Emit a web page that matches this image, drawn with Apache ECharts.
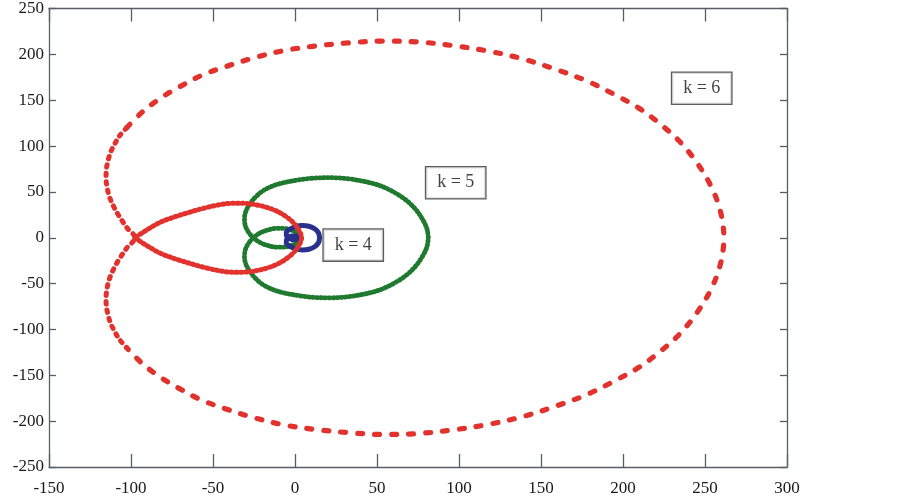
<!DOCTYPE html>
<html>
<head>
<meta charset="utf-8">
<script src="https://cdn.jsdelivr.net/npm/echarts@6/dist/echarts.min.js"></script>
<style>
html,body{margin:0;padding:0;background:#fff;}
#chart{width:902px;height:501px;}
</style>
</head>
<body>
<div id="chart"></div>
<script>
// ---- data ----
// Red curve (k = 6): outer loop, widely dashed part (top / right / bottom)
const redOuter = [
  [-102.6,120],[-93.5,136.5],[-83,151],[-71,164],[-57,177],[-41.6,187],[-25.5,196],[-7,204],[12,209],
  [32.5,212.5],[54,214.5],[75,213.5],[96.5,209.5],[118,203.5],[139,195],[160,183],[178,171],[195,156],
  [210,141],[222,125],[234,106],[245,82],[254,55],[259.5,28],[261.5,0],
  [259.5,-28],[254,-55],[245,-82],[234,-106],[222,-125],[210,-141],[195,-156],[178,-171],[160,-183],
  [139,-195],[118,-203.5],[96.5,-209.5],[75,-213.5],[54,-214.5],[32.5,-212.5],[12,-209],[-7,-204],
  [-25.5,-196],[-41.6,-187],[-57,-177],[-71,-164],[-83,-151],[-93.5,-136.5],[-102.6,-120]
];
// Red curve (k = 6): left arc of outer loop (tight dashes)
const redLeft = [
  [-102.6,120],[-107,111],[-110,102],[-112.5,93],[-114,84],[-115,75],[-115.2,66],[-114.6,55],[-113,44],
  [-110.3,33],[-106.7,22],[-102.5,11],[-97.6,0],
  [-102.5,-11],[-106.7,-22],[-110.3,-33],[-113,-44],[-114.6,-55],[-115.2,-66],[-115,-75],[-114,-84],
  [-112.5,-93],[-110,-102],[-107,-111],[-102.6,-120]
];
// Red curve (k = 6): inner loop (dense dots)
const redInner = [
  [-97.6,0],[-90,-9],[-82,-17],[-73,-23],[-64,-28],[-55,-32.5],[-46,-36],[-38.5,-37.5],[-31.5,-37.5],
  [-24,-36],[-17,-33],[-10.5,-28.5],[-5,-22.5],[-0.5,-15.5],[2.5,-8],[4,0],
  [2.5,8],[-0.5,15.5],[-5,22.5],[-10.5,28.5],[-17,33],[-24,36],[-31.5,37.5],[-38.5,37.5],[-46,36],
  [-55,32.5],[-64,28],[-73,23],[-82,17],[-90,9],[-97.6,0]
];
// Green curve (k = 5)
const greenCurve = [
  [81.3,0],[80.5,9.5],[78.2,18.8],[74,30],[68.1,40.5],[60.5,49.5],[51.8,56.8],[42,61.5],[31.5,64.5],
  [21,65.5],[11.2,65],[2,63],[-7.1,60],[-13.5,56.5],[-19.3,51.4],[-24,44.5],[-27.4,37],[-29.8,29.5],
  [-30.8,21],[-30.2,12.5],[-28.3,6],[-25.4,0],
  [-21.5,-5],[-16.5,-8.5],[-11.2,-10.3],[-5.5,-10],[-1,-7.5],[2,-3.8],[3,0],[2,3.8],[-1,7.5],
  [-5.5,10],[-11.2,10.3],[-16.5,8.5],[-21.5,5],[-25.4,0],
  [-28.3,-6],[-30.2,-12.5],[-30.8,-21],[-29.8,-29.5],[-27.4,-37],[-24,-44.5],[-19.3,-51.4],[-13.5,-56.5],
  [-7.1,-60],[2,-63],[11.2,-65],[21,-65.5],[31.5,-64.5],[42,-61.5],[51.8,-56.8],[60.5,-49.5],[68.1,-40.5],
  [74,-30],[78.2,-18.8],[80.5,-9.5],[81.3,0]
];
// Blue curve (k = 4)
const blueCurve = [
  [15,0],[14.3,5.5],[12,9.8],[8.5,12.5],[4.5,13.3],[0.5,12.2],[-3,9.5],[-5.3,5.5],[-5.2,2],[-4,0],
  [-2,-1.8],[0.5,-2],[1.8,0],[0.5,2],[-2,1.8],[-4,0],
  [-5.2,-2],[-5.3,-5.5],[-3,-9.5],[0.5,-12.2],[4.5,-13.3],[8.5,-12.5],[12,-9.8],[14.3,-5.5],[15,0]
];
// Text boxes
const labelNames = ['k = 6','k = 5','k = 4'];
const labelX = [248, 98, 35.5];
const labelY = [163, 60, -8];
// Axis ranges / ticks
const xTicks = {min:-150, max:300, interval:50};
const yTicks = {min:-250, max:250, interval:50};

// ---- chart ----
const axisColor = '#555d66';
const font = 'Liberation Serif';
const red = '#e2322e';
const chart = echarts.init(document.getElementById('chart'), null, {renderer:'canvas'});

function xAx(pos, showLabel){
  return {
    type:'value', position:pos, min:xTicks.min, max:xTicks.max, interval:xTicks.interval,
    axisLine:{show:true, onZero:false, lineStyle:{color:axisColor, width:1.3}},
    axisTick:{show:true, inside:true, length:13, lineStyle:{color:axisColor, width:1.3}},
    axisLabel:{show:showLabel, fontFamily:font, fontSize:17, color:'#1a1a1a', margin:13},
    splitLine:{show:false}
  };
}
function yAx(pos, showLabel){
  return {
    type:'value', position:pos, min:yTicks.min, max:yTicks.max, interval:yTicks.interval,
    axisLine:{show:true, onZero:false, lineStyle:{color:axisColor, width:1.3}},
    axisTick:{show:true, inside:true, length:7, lineStyle:{color:axisColor, width:1.3}},
    axisLabel:{show:showLabel, fontFamily:font, fontSize:17, color:'#1a1a1a', margin:5},
    splitLine:{show:false}
  };
}

const labelData = labelNames.map((n,i)=>({value:[labelX[i], labelY[i]], name:n}));
const lineSeries = (data, color, width, dash, z) => ({
  type:'line', data:data, smooth:0.35, showSymbol:false, xAxisIndex:0, yAxisIndex:0,
  lineStyle:{color:color, width:width, cap:'round', type:dash}, z:z
});

chart.setOption({
  animation:false,
  backgroundColor:'#fff',
  grid:{left:49, right:115, top:7, bottom:34, containLabel:false},
  xAxis:[xAx('bottom', true), xAx('top', false)],
  yAxis:[yAx('left', true), yAx('right', false)],
  series:[
    lineSeries(greenCurve, '#1f7a30', 4.8, [1.5,2.6], 2),
    lineSeries(blueCurve, '#27308c', 5, 'solid', 3),
    lineSeries(redInner, red, 5, [1.5,3.4], 4),
    lineSeries(redLeft, red, 5, [2.5,6], 4),
    lineSeries(redOuter, red, 5.2, [5,12], 4),
    {type:'scatter', data:labelData, symbolSize:0, xAxisIndex:0, yAxisIndex:0, z:10,
     label:{show:true, position:'inside', formatter:p=>p.name, fontFamily:font, fontSize:18,
            color:'#111', backgroundColor:'#fff', borderColor:'#333', borderWidth:1.3,
            padding:[7,11,6,11]}}
  ]
});
</script>
</body>
</html>
